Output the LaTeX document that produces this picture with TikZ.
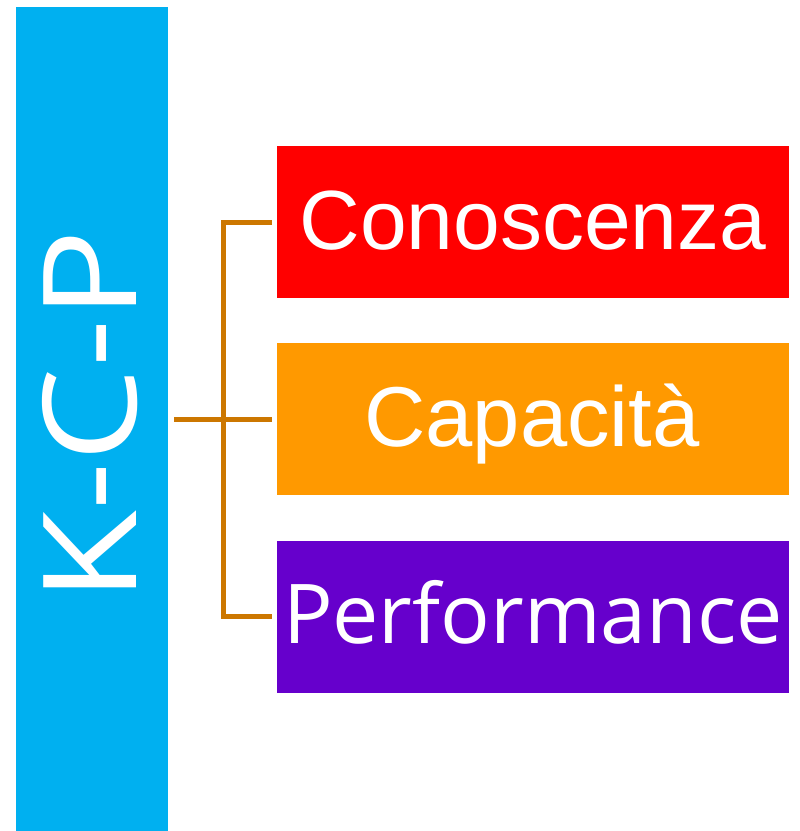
\documentclass[tikz,border=0pt]{standalone}
\usepackage{fontspec}
\setmainfont{Liberation Sans}
\newfontfamily\hum{Open Sans}
\newfontfamily\humwide[FakeStretch=1.15]{Open Sans}
\definecolor{barblue}{HTML}{00B0F0}
\definecolor{cred}{HTML}{FF0000}
\definecolor{corange}{HTML}{FF9900}
\definecolor{cpurple}{HTML}{6600CC}
\definecolor{conn}{RGB}{204,119,0}
\begin{document}
\begin{tikzpicture}[x=1pt,y=-1pt,
  box/.style={fill=#1,draw=none,minimum width=512pt,minimum height=152pt,inner sep=0pt},
  lbl/.style={text=white,anchor=base,inner sep=0pt},
  connline/.style={draw=conn,line width=5pt,line join=miter,line cap=butt}]
\useasboundingbox (0,0) rectangle (800,831);
\node[fill=barblue,minimum width=152pt,minimum height=824pt,inner sep=0pt] (kcp) at (92,419) {};
\node[lbl,rotate=90] (kcptext) at (136,416) {\humwide\fontsize{130}{130}\selectfont K-C-P};
\node[box=cred] (c1) at (533,222) {};
\node[box=corange] (c2) at (533,419) {};
\node[box=cpurple] (c3) at (533,616.5) {};
\node[lbl] (t1) at (533,249) {\fontsize{84}{84}\selectfont Conoscenza};
\node[lbl] (t2) at (532,446) {\fontsize{85}{85}\selectfont Capacità};
\node[lbl] (t3) at (533,643) {\hum\fontsize{82.5}{82.5}\selectfont Performance};
\coordinate (j) at (223,419);
\draw[connline] ([xshift=-5pt]c1.west) -- (c1.west -| j) -- (c3.west -| j) -- ([xshift=-5pt]c3.west);
\draw[connline] ([xshift=6pt]kcp.east) -- ([xshift=-5pt]c2.west);
\end{tikzpicture}
\end{document}
